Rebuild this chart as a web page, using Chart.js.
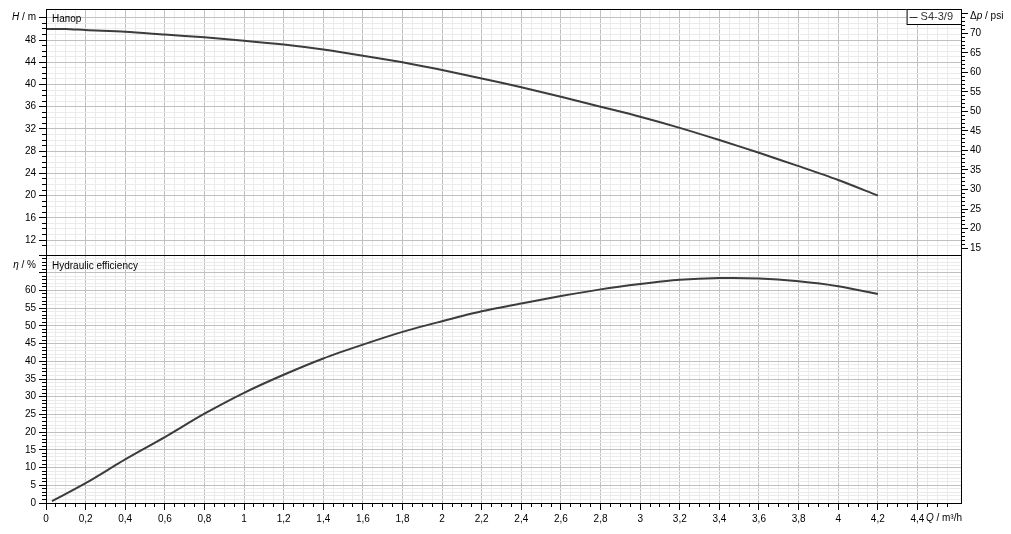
<!DOCTYPE html>
<html><head><meta charset="utf-8">
<script src="https://cdn.jsdelivr.net/npm/chart.js@4.4.0/dist/chart.umd.min.js"></script>
<style>
html,body{margin:0;padding:0;background:#fff;overflow:hidden}
#wrap{position:relative;width:1011px;height:534px;background:#fff}
canvas{position:absolute;left:0}
#c1{top:0}
#c2{top:255px}
</style></head><body>
<div id="wrap">
<canvas id="c1" width="1011" height="256"></canvas>
<canvas id="c2" width="1011" height="279"></canvas>
</div>
<script>
// ---- data ----
const seriesName = 'S4-3/9';
const flowHead = [0, 0.1, 0.2, 0.4, 0.6, 0.8, 1.0, 1.2, 1.4, 1.6, 1.8, 2.0, 2.2, 2.4, 2.6, 2.8, 3.0, 3.2, 3.4, 3.6, 3.8, 4.0, 4.2];
const headValues = [50.0, 50.0, 49.8, 49.5, 49.0, 48.5, 47.9, 47.2, 46.3, 45.2, 44.0, 42.6, 41.1, 39.5, 37.8, 36.0, 34.2, 32.2, 30.0, 27.7, 25.3, 22.8, 20.0];
const flowEff = [0.03, 0.2, 0.4, 0.6, 0.8, 1.0, 1.2, 1.4, 1.6, 1.8, 2.0, 2.2, 2.4, 2.6, 2.8, 3.0, 3.2, 3.4, 3.6, 3.8, 4.0, 4.2];
const effValues = [0.5, 5.6, 12.3, 18.6, 25.2, 31.1, 36.2, 40.8, 44.7, 48.3, 51.3, 54.1, 56.3, 58.4, 60.3, 61.8, 63.0, 63.5, 63.4, 62.6, 61.2, 59.0];

const qTickLabels = [0, 0.2, 0.4, 0.6, 0.8, 1, 1.2, 1.4, 1.6, 1.8, 2, 2.2, 2.4, 2.6, 2.8, 3, 3.2, 3.4, 3.6, 3.8, 4, 4.2, 4.4];
const headTickLabels = [12, 16, 20, 24, 28, 32, 36, 40, 44, 48];
const psiTickLabels = [15, 20, 25, 30, 35, 40, 45, 50, 55, 60, 65, 70];
const effTickLabels = [0, 5, 10, 15, 20, 25, 30, 35, 40, 45, 50, 55, 60];

const Q_RANGE = [0, 4.62];
const H_RANGE = [9.3, 53.6];
const ETA_RANGE = [0, 70];
const PSI_PER_M = 1.4223;

// ---- helpers ----
const FONT = '"Liberation Sans", Arial, sans-serif';
Chart.defaults.font.family = FONT;
Chart.defaults.font.size = 10;
Chart.defaults.color = '#000';
const MAJOR_GRID = '#c0c0c0', MINOR_GRID = '#ebebeb', LINE = '#3c3c3c';

function isMult(v, s) { const r = v / s; return Math.abs(r - Math.round(r)) < 1e-6; }
function inList(v, list) { return list.some(t => Math.abs(t - v) < 1e-6); }
function gridColor(major, minor) {
  return c => { if (!c.tick) return 'transparent'; const v = c.tick.value;
    return isMult(v, major) ? MAJOR_GRID : (isMult(v, minor) ? MINOR_GRID : 'transparent'); };
}
function tickColor(major) { return c => (c.tick && isMult(c.tick.value, major)) ? '#000' : 'transparent'; }
function align(p) { return Math.round(p - 0.5) + 0.5; }
function fmtQ(v) { return String(+v.toFixed(1)).replace('.', ','); }

function drawParts(ctx, parts, x, y, alignTo) {
  const fonts = parts.map(p => (p.it ? 'italic ' : '') + '10px ' + FONT);
  const widths = parts.map((p, i) => { ctx.font = fonts[i]; return ctx.measureText(p.t).width; });
  const total = widths.reduce((a, b) => a + b, 0);
  let cx = alignTo === 'right' ? x - total : x;
  ctx.textBaseline = 'middle'; ctx.textAlign = 'left'; ctx.fillStyle = '#000';
  parts.forEach((p, i) => { ctx.font = fonts[i]; ctx.fillText(p.t, cx, y); cx += widths[i]; });
}

const minorTickPlugin = {
  id: 'minorTickMarks',
  afterDraw(chart, args, opts) {
    const ctx = chart.ctx, a = chart.chartArea;
    ctx.save(); ctx.strokeStyle = '#000'; ctx.lineWidth = 1;
    (opts.axes || []).forEach(ax => {
      const s = chart.scales[ax.id];
      s.ticks.forEach(t => {
        const v = t.value;
        if (!isMult(v, ax.minor) || isMult(v, ax.major)) return;
        const p = align(s.getPixelForValue(v));
        ctx.beginPath();
        if (ax.side === 'left') { ctx.moveTo(a.left - 4, p); ctx.lineTo(a.left, p); }
        else if (ax.side === 'right') { ctx.moveTo(a.right, p); ctx.lineTo(a.right + 4, p); }
        else { ctx.moveTo(p, a.bottom); ctx.lineTo(p, a.bottom + 4); }
        ctx.stroke();
      });
    });
    ctx.restore();
  }
};

const framePlugin = {
  id: 'frameAndText',
  afterDraw(chart, args, opts) {
    const ctx = chart.ctx, a = chart.chartArea;
    ctx.save();
    ctx.strokeStyle = '#000'; ctx.lineWidth = 1;
    ctx.beginPath();
    ctx.moveTo(a.left, a.top + 0.5); ctx.lineTo(a.right + 1, a.top + 0.5);
    ctx.moveTo(a.right + 0.5, a.top); ctx.lineTo(a.right + 0.5, a.bottom + 1);
    ctx.moveTo(a.left + 0.5, a.top); ctx.lineTo(a.left + 0.5, a.bottom + 1);
    ctx.moveTo(a.left, a.bottom + 0.5); ctx.lineTo(a.right + 1, a.bottom + 0.5);
    ctx.stroke();
    // panel title
    ctx.font = '10px ' + FONT; ctx.fillStyle = '#000'; ctx.textBaseline = 'middle'; ctx.textAlign = 'left';
    ctx.fillText(opts.title, a.left + 6, a.top + opts.titleDy);
    // axis unit labels
    (opts.units || []).forEach(u => {
      const x = u.side === 'left' ? a.left - 10 : (u.side === 'right' ? a.right + 9 : a.right + 1);
      const y = u.side === 'bottom' ? a.bottom + u.dy : a.top + u.dy;
      drawParts(ctx, u.parts, x, y, u.side === 'right' ? 'left' : 'right');
    });
    // legend
    if (opts.legend) {
      const ds = chart.data.datasets[0];
      ctx.font = '11px ' + FONT;
      const tw = ctx.measureText(ds.label).width;
      const bw = tw + 22, bx = a.right - bw, by = a.top, bh = 15;
      ctx.fillStyle = '#fff'; ctx.fillRect(bx, by, bw, bh);
      ctx.strokeStyle = '#000'; ctx.strokeRect(bx + 0.5, by + 0.5, bw, bh);
      ctx.strokeStyle = '#333';
      ctx.beginPath(); ctx.moveTo(bx + 3, by + 8.5); ctx.lineTo(bx + 11, by + 8.5); ctx.stroke();
      ctx.fillStyle = '#333'; ctx.textBaseline = 'middle';
      ctx.fillText(ds.label, bx + 14, by + 8);
    }
    ctx.restore();
  }
};

function xScale(showLabels) {
  return {
    type: 'linear', position: 'bottom', min: Q_RANGE[0], max: Q_RANGE[1],
    afterFit: s => { s.height = showLabels ? 31 : 1; s.paddingLeft = 0; s.paddingRight = 0; },
    ticks: { display: showLabels, stepSize: 0.05, autoSkip: false, maxRotation: 0, padding: 3,
      callback: v => inList(v, qTickLabels) ? fmtQ(v) : '' },
    grid: { color: gridColor(0.2, 0.05), drawTicks: showLabels, tickLength: 7, tickColor: tickColor(0.2) },
    border: { color: '#000' }
  };
}

// ---- top chart: head ----
new Chart(document.getElementById('c1'), {
  type: 'line',
  data: { datasets: [{ label: seriesName, data: flowHead.map((q, i) => ({ x: q, y: headValues[i] })),
    borderColor: LINE, borderWidth: 2, pointRadius: 0, tension: 0.3, fill: false }] },
  options: {
    responsive: false, animation: false, events: [],
    layout: { padding: { top: 9, left: 0, right: 0, bottom: 0 } },
    plugins: { legend: { display: false }, tooltip: { enabled: false },
      minorTickMarks: { axes: [{ id: 'y', side: 'left', minor: 1, major: 4 }, { id: 'y2', side: 'right', minor: 1, major: 5 }] },
      frameAndText: { title: 'Напор', titleDy: 10, legend: true,
        units: [{ side: 'left', dy: 8.5, parts: [{ t: 'H', it: true }, { t: ' / m' }] },
                { side: 'right', dy: 7, parts: [{ t: 'Δ' }, { t: 'p', it: true }, { t: ' / psi' }] }] } },
    scales: {
      x: xScale(false),
      y: { type: 'linear', position: 'left', min: H_RANGE[0], max: H_RANGE[1],
        afterFit: s => { s.width = 46; s.paddingTop = 0; s.paddingBottom = 0; },
        ticks: { stepSize: 1, autoSkip: false, padding: 3, callback: v => inList(v, headTickLabels) ? String(v) : '' },
        grid: { color: gridColor(4, 1), tickLength: 7, tickColor: tickColor(4) },
        border: { color: '#000' } },
      y2: { type: 'linear', position: 'right', min: H_RANGE[0] * PSI_PER_M, max: H_RANGE[1] * PSI_PER_M,
        afterFit: s => { s.width = 50; s.paddingTop = 0; s.paddingBottom = 0; },
        ticks: { stepSize: 1, autoSkip: false, padding: 2, callback: v => inList(v, psiTickLabels) ? String(v) : '' },
        grid: { drawOnChartArea: false, tickLength: 7, tickColor: tickColor(5) },
        border: { color: '#000' } }
    }
  },
  plugins: [minorTickPlugin, framePlugin]
});

// ---- bottom chart: efficiency ----
new Chart(document.getElementById('c2'), {
  type: 'line',
  data: { datasets: [{ label: 'Hydraulic efficiency', data: flowEff.map((q, i) => ({ x: q, y: effValues[i] })),
    borderColor: LINE, borderWidth: 2, pointRadius: 0, tension: 0.3, fill: false }] },
  options: {
    responsive: false, animation: false, events: [],
    layout: { padding: { top: 0, left: 0, right: 50, bottom: 0 } },
    plugins: { legend: { display: false }, tooltip: { enabled: false },
      minorTickMarks: { axes: [{ id: 'y', side: 'left', minor: 1, major: 5 }, { id: 'x', side: 'bottom', minor: 0.05, major: 0.2 }] },
      frameAndText: { title: 'Hydraulic efficiency', titleDy: 11, legend: false,
        units: [{ side: 'left', dy: 10, parts: [{ t: 'η', it: true }, { t: ' / %' }] },
                { side: 'bottom', dy: 15, parts: [{ t: 'Q', it: true }, { t: ' / m³/h' }] }] } },
    scales: {
      x: xScale(true),
      y: { type: 'linear', position: 'left', min: ETA_RANGE[0], max: ETA_RANGE[1],
        afterFit: s => { s.width = 46; s.paddingTop = 0; s.paddingBottom = 0; },
        ticks: { stepSize: 1, autoSkip: false, padding: 3, callback: v => inList(v, effTickLabels) ? String(v) : '' },
        grid: { color: gridColor(5, 1), tickLength: 7, tickColor: tickColor(5) },
        border: { color: '#000' } }
    }
  },
  plugins: [minorTickPlugin, framePlugin]
});
</script>
</body></html>
